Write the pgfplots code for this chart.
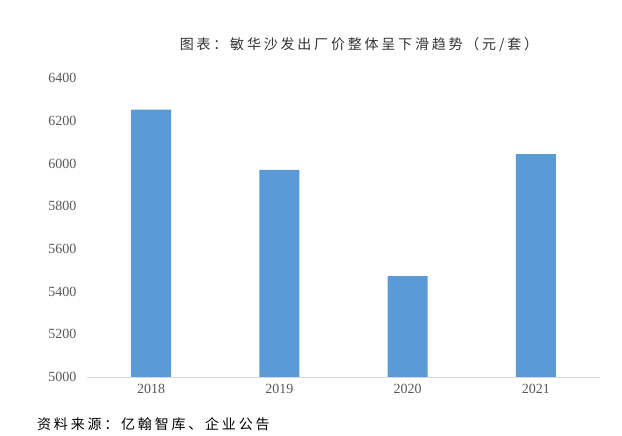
\documentclass[border=0pt]{standalone}
\usepackage{pgfplots}
\pgfplotsset{compat=1.18}
\usepackage{fontspec}
\setmainfont{Liberation Serif}
\newfontfamily\cjk[LetterSpace=20]{Noto Sans CJK SC}
\definecolor{barblue}{HTML}{5B9BD5}
\definecolor{ticktext}{HTML}{595959}
\definecolor{axisgray}{HTML}{D9D9D9}
\begin{document}
\begin{tikzpicture}
\path[use as bounding box] (0,0) rectangle (622bp,436bp);
\begin{axis}[
    at={(87bp,59bp)},
    anchor=south west,
    scale only axis,
    width=513bp,
    height=299bp,
    ymin=5000, ymax=6400,
    ytick={5000,5200,...,6400},
    xmin=-0.5, xmax=3.5,
    xtick=data,
    xticklabels={2018,2019,2020,2021},
    axis x line*=bottom,
    axis y line*=left,
    x axis line style={draw=axisgray, line width=0.8pt, -},
    y axis line style={draw=none},
    major tick length=0pt,
    ticklabel style={font=\fontsize{14bp}{15bp}\selectfont, text=ticktext},
    xticklabel style={yshift=-4bp},
    yticklabel style={xshift=-7bp},
    /pgf/number format/assume math mode=true,
    /pgf/number format/1000 sep={},
    ybar,
    bar width=40bp,
]
\addplot[fill=barblue, draw=none] coordinates {(0,6252) (1,5970) (2,5472) (3,6044)};
\end{axis}
\node[font=\cjk\fontsize{14bp}{16bp}\selectfont, text=black!80] at (359bp,391bp) {图表：敏华沙发出厂价整体呈下滑趋势（元/套）};
\node[font=\cjk\fontsize{14bp}{16bp}\selectfont, text=black, anchor=west, inner sep=0pt] at (37bp,12bp) {资料来源：亿翰智库、企业公告};
\end{tikzpicture}
\end{document}
